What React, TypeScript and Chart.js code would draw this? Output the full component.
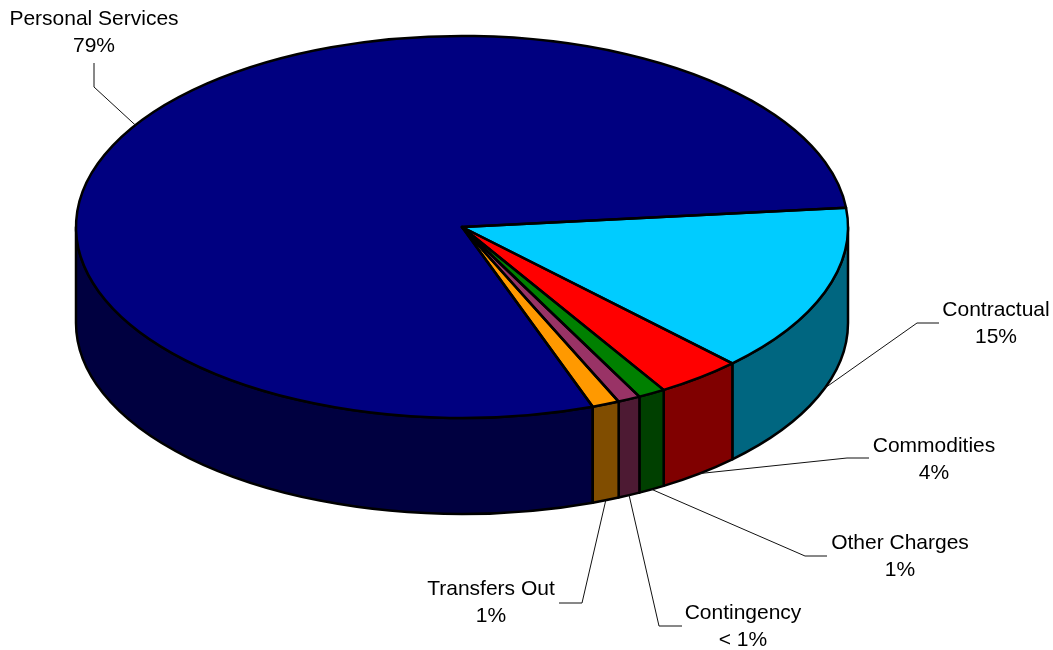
import React, { useEffect, useRef } from 'react';
import { Chart, registerables } from 'chart.js';

Chart.register(...registerables);

// ---- data ----
const categories = ['Personal Services', 'Contractual', 'Commodities', 'Other Charges', 'Contingency', 'Transfers Out'];
const values = [78.9, 14.25, 3.6, 1.15, 0.95, 1.15];
const percentLabels = ['79%', '15%', '4%', '1%', '< 1%', '1%'];

// ---- styles ----
const topColors = ['#000080', '#00CCFF', '#FF0000', '#008000', '#993366', '#FF9900'];
const sideColors = ['#000040', '#006680', '#800000', '#004000', '#4D1A33', '#804D00'];

// ---- layout ----
const GEOM = { cx: 462, cy: 227, rx: 386, ry: 191, depth: 96 };
const LINE_GAP = 27;
const OUTLINE = 2.5;
const labelLayout = [
  { elbow: [94, 87], end: [94, 63], tx: 94, ty: 25 },
  { elbow: [917, 323], end: [939, 323], tx: 996, ty: 316 },
  { elbow: [847, 458], end: [869, 458], tx: 934, ty: 452 },
  { elbow: [805, 556], end: [827, 556], tx: 900, ty: 549 },
  { elbow: [659, 626], end: [682, 626], tx: 743, ty: 619 },
  { elbow: [582, 603], end: [559, 603], tx: 491, ty: 595 },
];

const pie3d = {
  id: 'pie3d',
  beforeDatasetsDraw(chart: any) {
    const ctx = chart.ctx as CanvasRenderingContext2D;
    const meta = chart.getDatasetMeta(0);
    const { cx, cy, rx, ry, depth } = GEOM;
    // side walls (front half only)
    meta.data.forEach((el: any, i: number) => {
      const s = el.startAngle as number;
      const e = el.endAngle as number;
      for (let k = -2; k <= 2; k++) {
        const lo = Math.max(s, k * 2 * Math.PI);
        const hi = Math.min(e, k * 2 * Math.PI + Math.PI);
        if (hi - lo > 1e-6) {
          ctx.save();
          ctx.beginPath();
          ctx.ellipse(cx, cy, rx, ry, 0, lo, hi);
          ctx.ellipse(cx, cy + depth, rx, ry, 0, hi, lo, true);
          ctx.closePath();
          ctx.fillStyle = sideColors[i];
          ctx.fill();
          ctx.lineWidth = OUTLINE;
          ctx.lineJoin = 'round';
          ctx.strokeStyle = '#000';
          ctx.stroke();
          ctx.restore();
        }
      }
    });
    const el0 = meta.data[0];
    const R = el0.outerRadius;
    ctx.save();
    ctx.translate(cx, cy);
    ctx.scale(rx / R, ry / R);
    ctx.translate(-el0.x, -el0.y);
  },
  afterDatasetsDraw(chart: any) {
    const ctx = chart.ctx as CanvasRenderingContext2D;
    ctx.restore();
    const meta = chart.getDatasetMeta(0);
    const { cx, cy, rx, ry, depth } = GEOM;
    // top outlines
    meta.data.forEach((el: any) => {
      ctx.save();
      ctx.beginPath();
      ctx.moveTo(cx, cy);
      ctx.ellipse(cx, cy, rx, ry, 0, el.startAngle, el.endAngle);
      ctx.closePath();
      ctx.lineWidth = OUTLINE;
      ctx.lineJoin = 'round';
      ctx.strokeStyle = '#000';
      ctx.stroke();
      ctx.restore();
    });
    // leader lines + labels
    ctx.save();
    ctx.font = '21px "Liberation Sans", Arial, sans-serif';
    ctx.textAlign = 'center';
    ctx.textBaseline = 'alphabetic';
    meta.data.forEach((el: any, i: number) => {
      const mid = (el.startAngle + el.endAngle) / 2;
      const px = cx + rx * Math.cos(mid);
      let py = cy + ry * Math.sin(mid);
      if (Math.sin(mid) > 0) py += depth;
      const L = labelLayout[i];
      ctx.beginPath();
      ctx.moveTo(px, py);
      ctx.lineTo(L.elbow[0], L.elbow[1]);
      ctx.lineTo(L.end[0], L.end[1]);
      ctx.lineWidth = 1;
      ctx.strokeStyle = '#111';
      ctx.stroke();
      ctx.fillStyle = '#000';
      ctx.fillText(categories[i], L.tx, L.ty);
      ctx.fillText(percentLabels[i], L.tx, L.ty + LINE_GAP);
    });
    ctx.restore();
  },
};

export default function App() {
  const ref = useRef<HTMLCanvasElement | null>(null);
  useEffect(() => {
    if (!ref.current) return;
    const chart = new Chart(ref.current, {
      type: 'pie',
      data: {
        labels: categories,
        datasets: [
          {
            data: values,
            backgroundColor: topColors,
            borderWidth: 0,
            clip: false as any,
          },
        ],
      },
      options: {
        responsive: false,
        animation: false,
        rotation: 160.2,
        layout: { padding: 0 },
        plugins: {
          legend: { display: false },
          tooltip: { enabled: false },
        },
        events: [],
      },
      plugins: [pie3d],
    });
    return () => chart.destroy();
  }, []);
  return (
    <div style={{ position: 'fixed', left: 0, top: 0, width: 1053, height: 650, background: '#fff' }}>
      <canvas ref={ref} width={1053} height={650} style={{ display: 'block' }} />
    </div>
  );
}
